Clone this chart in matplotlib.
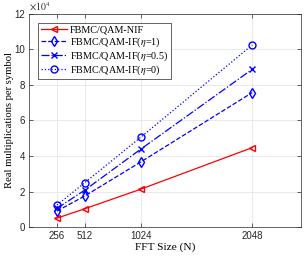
import matplotlib
matplotlib.use('Agg')
import matplotlib.pyplot as plt

# FFT sizes and real multiplications per symbol (x 1e4)
fft_size = [256, 512, 1024, 2048]
nif = [0.50, 1.03, 2.13, 4.47]
if_eta1 = [0.90, 1.75, 3.66, 7.57]
if_eta05 = [1.05, 2.08, 4.38, 8.88]
if_eta0 = [1.24, 2.50, 5.05, 10.25]

labels = ['FBMC/QAM-NIF', r'FBMC/QAM-IF($\eta$=1)',
          r'FBMC/QAM-IF($\eta$=0.5)', r'FBMC/QAM-IF($\eta$=0)']

plt.rcParams['mathtext.fontset'] = 'stix'
serif = 'Liberation Serif'
sans = 'Liberation Sans'

fig = plt.figure(figsize=(3.06, 2.58), dpi=100)
ax = fig.add_axes([0.095, 0.12, 0.89, 0.826])

scale = 1e4
ax.plot(fft_size, [v * scale for v in nif], '-', color='red', marker='<',
        mfc='none', ms=5, lw=0.9, label=labels[0])
ax.plot(fft_size, [v * scale for v in if_eta1], '--', color='blue', marker='d',
        mfc='none', ms=5, lw=0.9, label=labels[1])
ax.plot(fft_size, [v * scale for v in if_eta05], '-.', color='blue', marker='x',
        ms=4, lw=0.9, label=labels[2])
ax.plot(fft_size, [v * scale for v in if_eta0], ':', color='blue', marker='o',
        mfc='none', ms=5, lw=0.9, label=labels[3])

ax.set_xlim(0, 2500)
ax.set_ylim(0, 12e4)
ax.set_xticks(fft_size)
ax.set_yticks([0, 2e4, 4e4, 6e4, 8e4, 10e4, 12e4])
ax.set_yticklabels(['0', '2', '4', '6', '8', '10', '12'])
for lab in ax.get_xticklabels() + ax.get_yticklabels():
    lab.set_family(sans)
    lab.set_fontsize(7)
    lab.set_color('#262626')
ax.tick_params(direction='in', length=3, width=0.5, colors='#262626',
               top=True, right=True, pad=3)
ax.text(0, 1.005, r'$\times 10^4$', transform=ax.transAxes, fontsize=7,
        color='#262626', va='bottom', ha='left')

ax.grid(True, color='#e6e6e6', lw=0.6)
ax.set_axisbelow(True)
for s in ax.spines.values():
    s.set_color('#262626')
    s.set_linewidth(0.5)

ax.set_xlabel('FFT Size (N)', family=serif, fontsize=8.2, labelpad=1)
ax.set_ylabel('Real multiplications per symbol', family=serif, fontsize=7.7,
              labelpad=0)

leg = ax.legend(loc='upper left', prop={'family': serif, 'size': 7.3},
                handlelength=2.6, handletextpad=0.3, borderpad=0.25,
                labelspacing=0.05, fancybox=False, framealpha=1,
                bbox_to_anchor=(0.033, 0.958), borderaxespad=0)
leg.get_frame().set_edgecolor('#262626')
leg.get_frame().set_linewidth(0.5)

fig.savefig('out.png', dpi=100)
